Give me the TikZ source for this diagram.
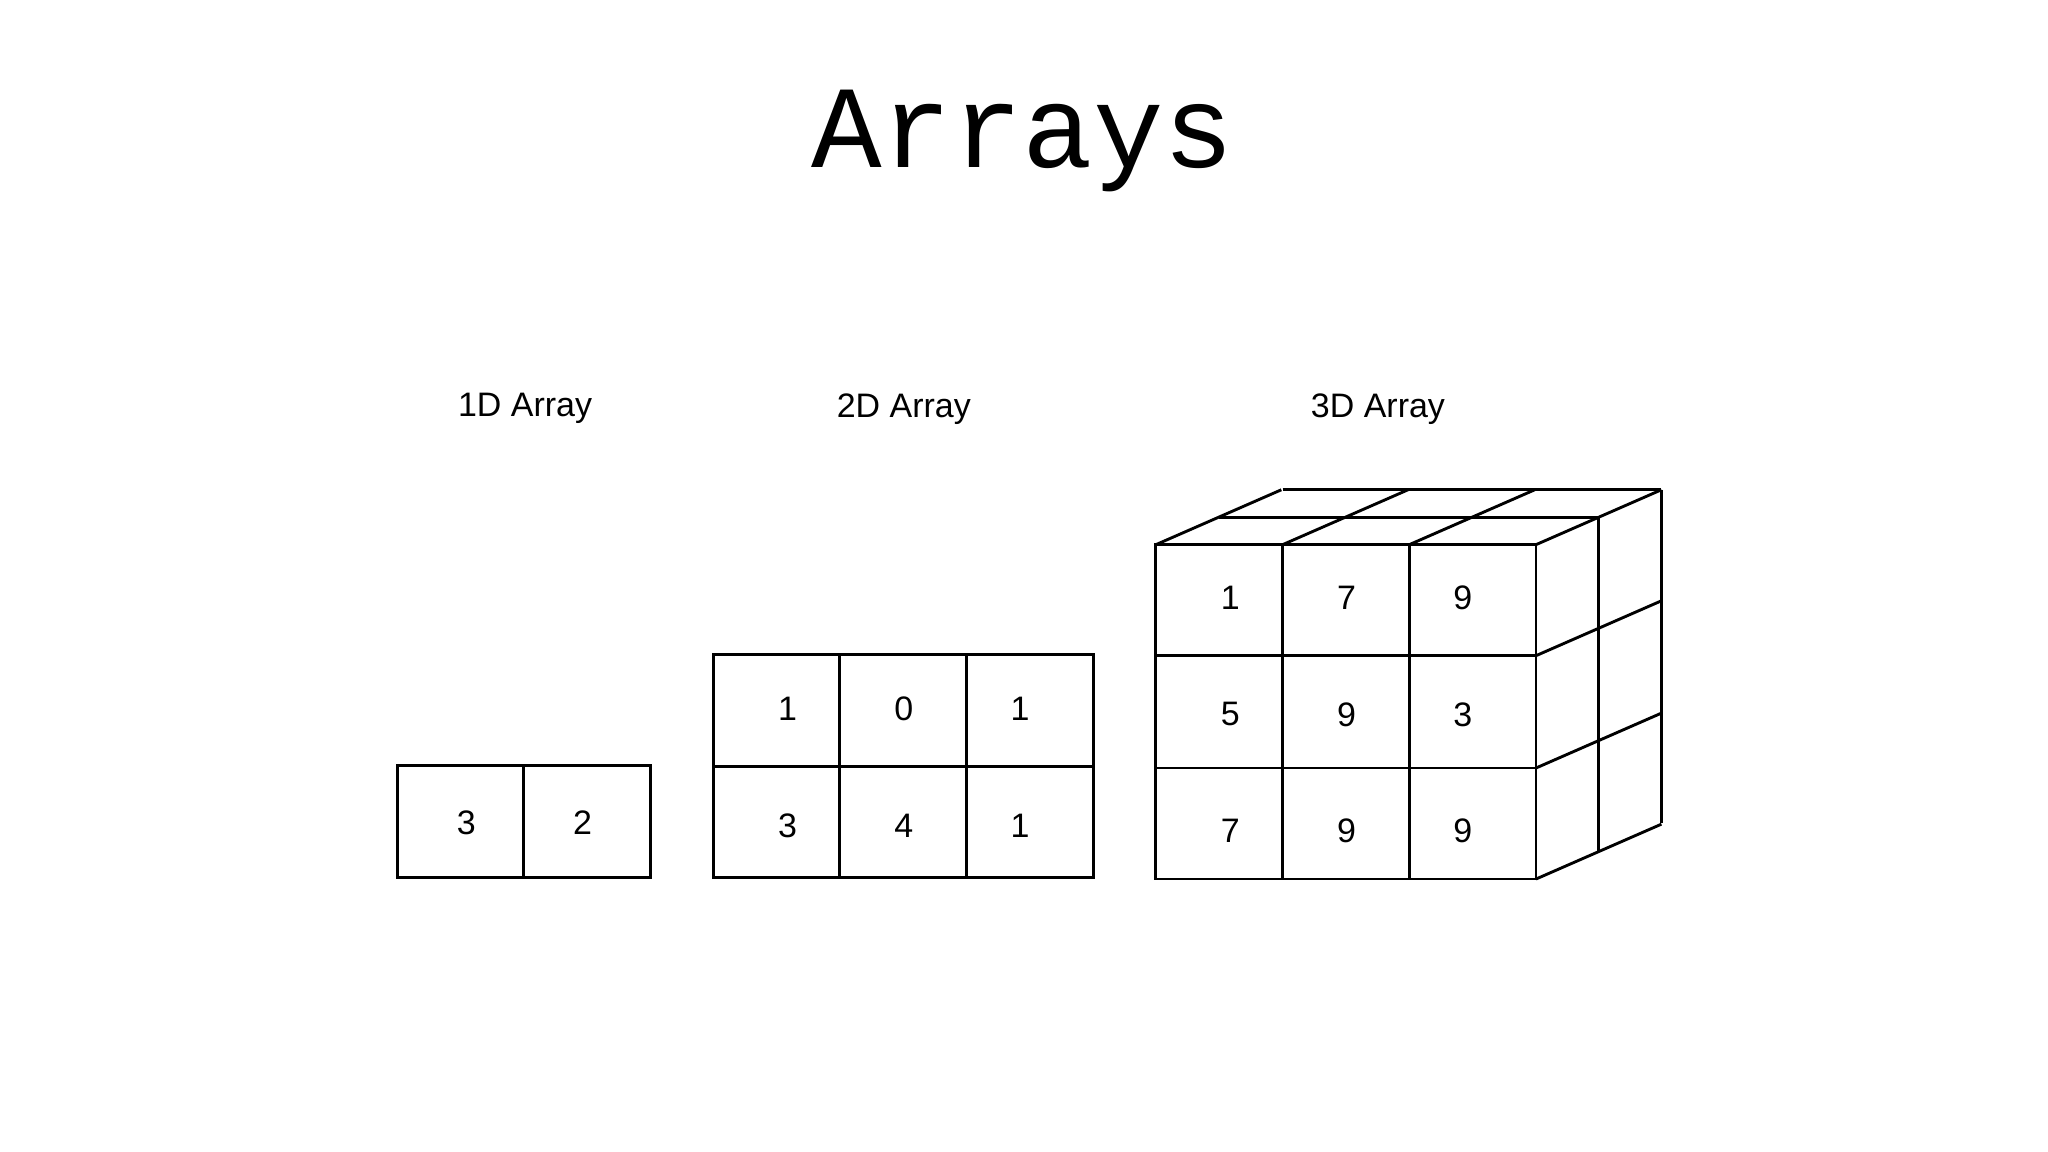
\documentclass[tikz,border=0pt]{standalone}
\usepackage{fontspec}
\setmainfont{Liberation Sans}
\newfontfamily\monof{Liberation Mono}
\begin{document}
\begin{tikzpicture}[x=0.5pt,y=-0.5pt,line width=1.1pt,
  num/.style={font=\fontsize{13pt}{15pt}\selectfont},
  lbl/.style={font=\fontsize{13pt}{15pt}\selectfont}]
\useasboundingbox (0,0) rectangle (1568,882);
\node[font=\monof\fontsize{45pt}{50pt}\selectfont] (title) at (783,108) {Arrays};
\node[lbl] (l1) at (402,313) {1D Array};
\node[lbl] (l2) at (692,313) {2D Array};
\node[lbl] (l3) at (1055,313) {3D Array};
% 1D
\draw (304,586) rectangle (498,672) (401,586) -- (401,672);
\node[num] (a1) at (357,630) {3};
\node[num] (a2) at (446,630) {2};
% 2D
\draw (546,501) rectangle (837,672) (643,501) -- (643,672) (740,501) -- (740,672) (546,587) -- (837,587);
\foreach \t/\x/\y [count=\i] in {1/603/543,0/692/543,1/781/543,3/603/632,4/692/632,1/781/632}
  \node[num] (b\i) at (\x,\y) {\t};
% 3D
\draw (885,417) rectangle (1176,673);
\foreach \x in {982,1079} \draw (\x,417) -- (\x,673);
\foreach \y in {502,588} \draw (885,\y) -- (1176,\y);
\foreach \x in {885,982,1079,1176} \draw (\x,417) -- ++(96,-42);
\draw (933,396) -- (1224,396) (982,375) -- (1272,375);
\draw (1224,396) -- (1224,652) (1272,375) -- (1272,630);
\foreach \y in {502,588,673} \draw (1176,\y) -- ++(96,-42);
\foreach \t/\x/\y [count=\i] in {1/942/458,7/1031/458,9/1120/458,5/942/547,9/1031/547,3/1120/547,7/942/636,9/1031/636,9/1120/636}
  \node[num] (c\i) at (\x,\y) {\t};
\end{tikzpicture}
\end{document}
